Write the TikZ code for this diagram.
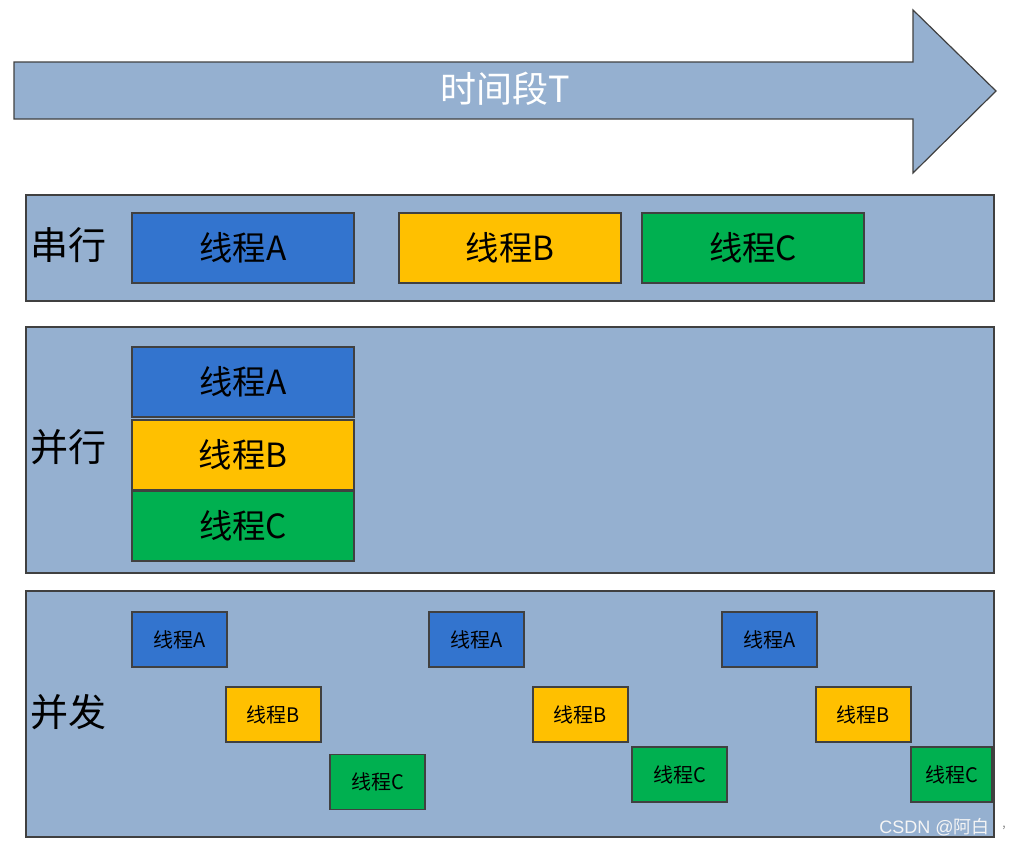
\documentclass[tikz,border=0pt]{standalone}
\usepackage{fontspec}
\newfontfamily\cjk{Noto Sans CJK SC}
\definecolor{panel}{RGB}{149,176,208}
\definecolor{tblue}{RGB}{51,116,206}
\definecolor{tyellow}{RGB}{255,192,0}
\definecolor{tgreen}{RGB}{0,176,80}
\definecolor{edge}{RGB}{64,64,64}
\tikzset{
  panelbox/.style={draw=edge, fill=panel, line width=0.9pt},
  big/.style={draw=edge, line width=0.9pt, inner sep=0pt, text=black, font=\cjk\fontsize{25}{28}\selectfont},
  small/.style={draw=edge, line width=0.9pt, inner sep=0pt, text=black, font=\cjk\fontsize{15}{17}\selectfont},
  lbl/.style={anchor=west, inner sep=0pt, text=black, font=\cjk\fontsize{28.5}{32}\selectfont}
}
\begin{document}
\begin{tikzpicture}[x=0.75pt, y=-0.75pt]
\useasboundingbox (0,0) rectangle (1021,847);
% time arrow
\draw[edge, fill=panel, line width=0.9pt] (14,62) -- (913,62) -- (913,10) -- (996,91) -- (913,173) -- (913,119) -- (14,119) -- cycle;
\node[text=white, font=\cjk\fontsize{27}{30}\selectfont] (title) at (505,89) {时间段T};
% panels
\draw[panelbox] (26,195) rectangle (994,301);
\draw[panelbox] (26,327) rectangle (994,573);
\draw[panelbox] (26,591) rectangle (994,837);
\node[lbl] (ser) at (30,245) {串行};
\node[lbl] (par) at (30,447) {并行};
\node[lbl] (con) at (30,712) {并发};
% serial
\node[big, fill=tblue] (sA) at (243,248) [minimum width=222*0.75pt, minimum height=70*0.75pt] {线程A};
\node[big, fill=tyellow] (sB) at (510,248) [minimum width=222*0.75pt, minimum height=70*0.75pt] {线程B};
\node[big, fill=tgreen] (sC) at (753,248) [minimum width=222*0.75pt, minimum height=70*0.75pt] {线程C};
% parallel
\node[big, fill=tblue] (pA) at (243,382) [minimum width=222*0.75pt, minimum height=70*0.75pt] {线程A};
\node[big, fill=tyellow] (pB) at (243,455) [minimum width=222*0.75pt, minimum height=70*0.75pt] {线程B};
\node[big, fill=tgreen] (pC) at (243,526) [minimum width=222*0.75pt, minimum height=70*0.75pt] {线程C};
% concurrent
\tikzset{sz/.style={minimum width=95*0.75pt, minimum height=55*0.75pt}}
\node[small, sz, fill=tblue] (cA1) at (179.5,639.5) {线程A};
\node[small, sz, fill=tyellow] (cB1) at (273.5,714.5) {线程B};
\node[small, sz, fill=tgreen] (cC1) at (377.5,782) {线程C};
\node[small, sz, fill=tblue] (cA2) at (476.5,639.5) {线程A};
\node[small, sz, fill=tyellow] (cB2) at (580.5,714.5) {线程B};
\node[small, sz, fill=tgreen] (cC2) at (679.5,774.5) {线程C};
\node[small, sz, fill=tblue] (cA3) at (769.5,639.5) {线程A};
\node[small, sz, fill=tyellow] (cB3) at (863.5,714.5) {线程B};
\node[small, fill=tgreen, minimum width=81*0.75pt, minimum height=55*0.75pt] (cC3) at (951.5,774.5) {线程C};
% watermark
\node[anchor=east, inner sep=0pt, text=white!92!gray, font=\fontspec{Liberation Sans}\fontsize{13.5}{15}\selectfont] (wm) at (990,827) {CSDN @{\cjk 阿白}};
\node[inner sep=0pt, text=gray, font=\cjk\fontsize{9}{10}\selectfont] (cm) at (1004,828) {,};
\end{tikzpicture}
\end{document}
